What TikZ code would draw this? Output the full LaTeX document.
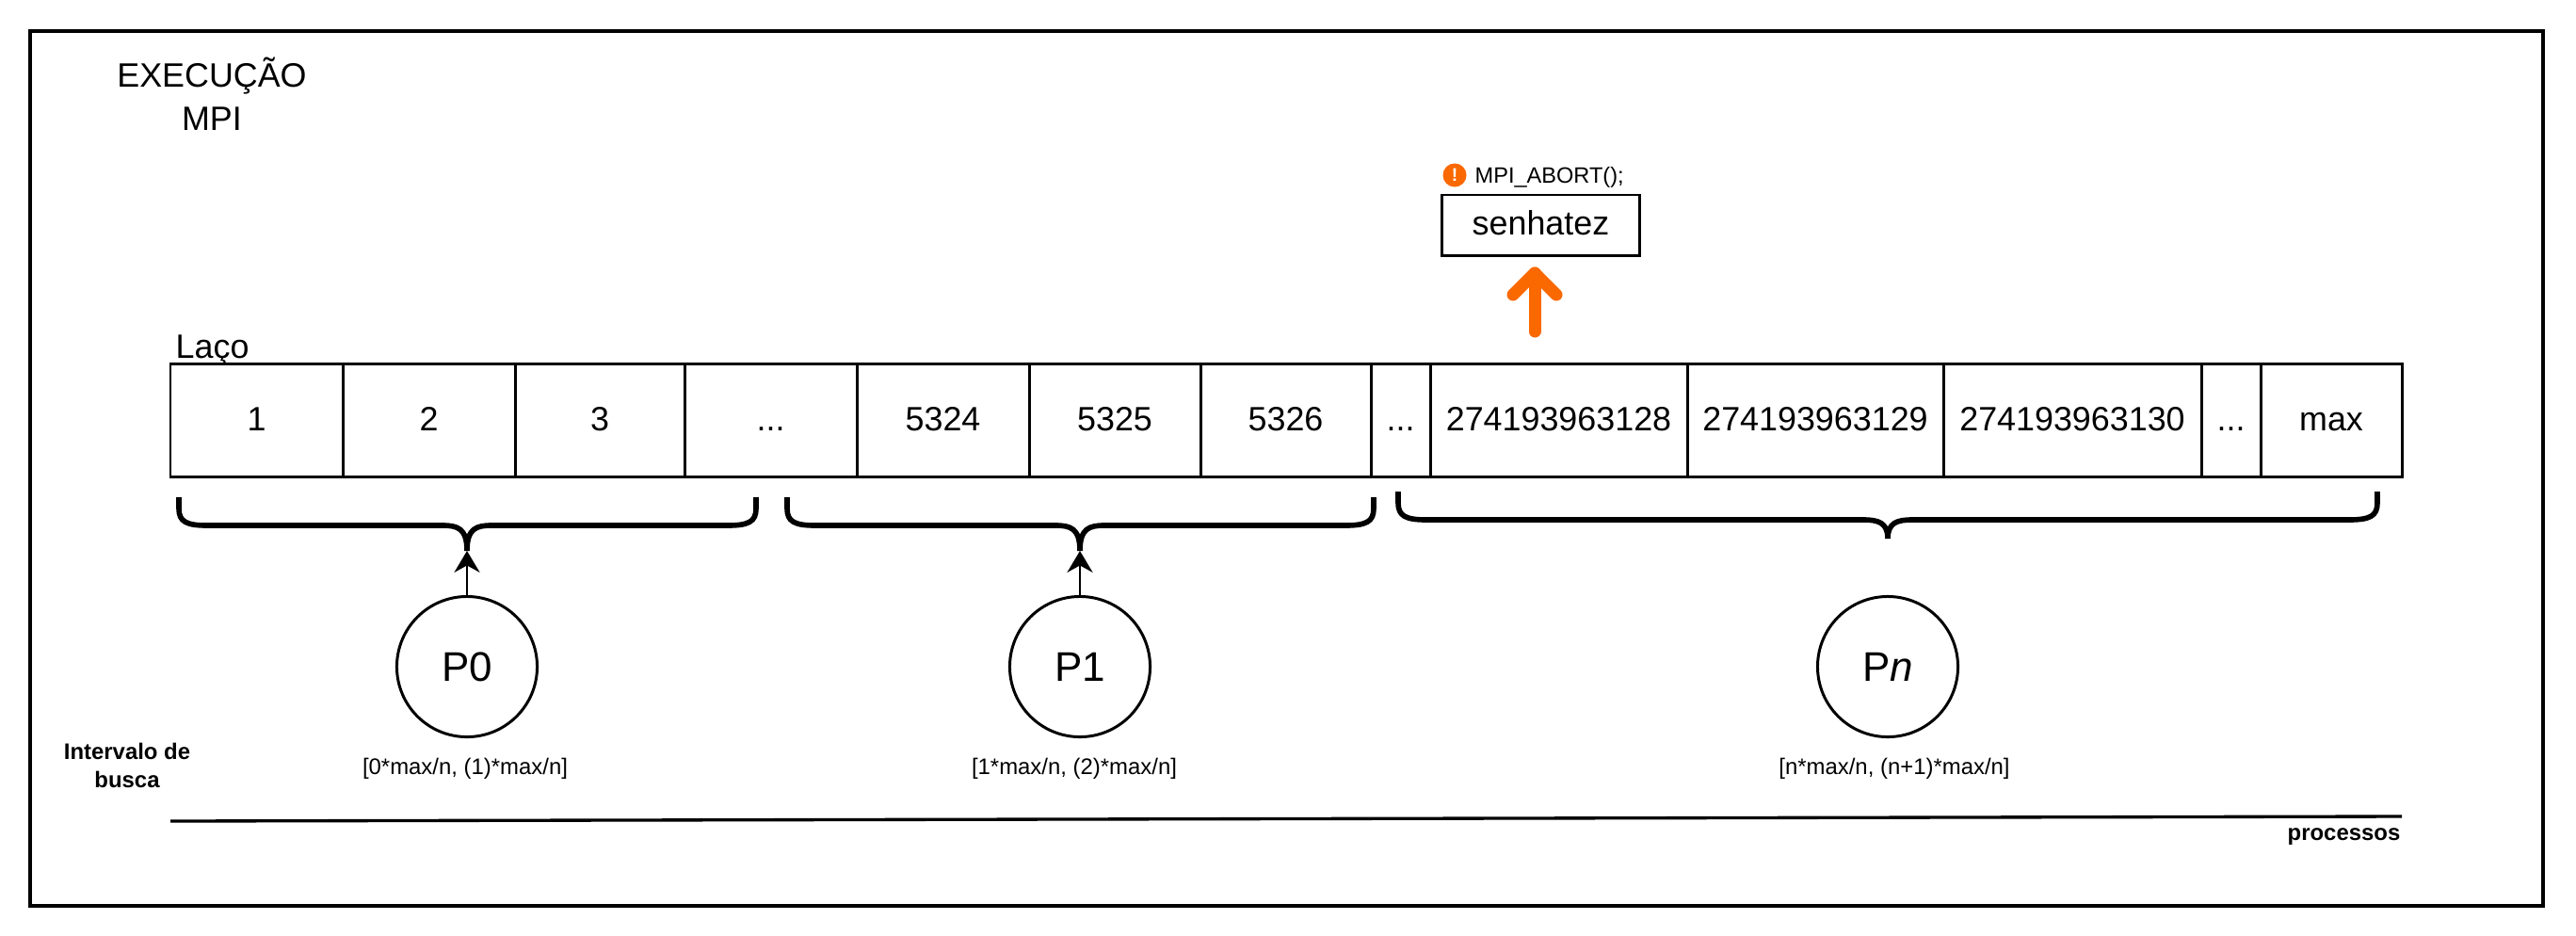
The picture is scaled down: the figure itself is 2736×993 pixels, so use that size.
\documentclass[tikz,border=0pt]{standalone}
\usepackage{fontspec}
\setmainfont{Liberation Sans}
\usetikzlibrary{arrows.meta}
\definecolor{alertorange}{HTML}{FA6800}
\newcommand{\gapdots}{...}
\tikzset{
  cell/.style={draw,line width=0.85pt,outer sep=0pt,inner sep=0pt,minimum height=1.19cm,font=\fontsize{10.2pt}{12pt}\selectfont,text height=6.2pt,text depth=0pt},
  proc/.style={draw,circle,line width=0.85pt,outer sep=0pt,inner sep=0pt,minimum size=1.49cm,font=\fontsize{12.5pt}{14pt}\selectfont},
  bracket/.style={line width=1.6pt,line join=round},
  interval/.style={font=\fontsize{6.8pt}{8pt}\selectfont,inner sep=0pt},
  axislabel/.style={font=\fontsize{6.8pt}{8.5pt}\selectfont\bfseries,align=center,inner sep=0pt},
  title/.style={font=\fontsize{10.2pt}{13pt}\selectfont,align=center,inner sep=0pt}
}
\begin{document}
\begin{tikzpicture}[x=0.01cm,y=-0.01cm]
\useasboundingbox (0,0) rectangle (2736,993);
\draw[line width=0.95pt] (32,33) rectangle (2701,962); % --- outer frame
\node[title] (exec) at (225,100) {EXECUÇÃO\\MPI};
\node[title,anchor=west] (laco) at (186,372) {Laço};
%----- memory cells of the loop
\foreach \xa/\xb/\name/\txt in {181/364/c1/1,364/547/c2/2,547/727/c3/3,727/910/c4/\gapdots,910/1093/c5/5324,1093/1275/c6/5325,1275/1456/c7/5326,1456/1519/c8/\gapdots,1519/1792/c9/274193963128,1792/2064/c10/274193963129,2064/2338/c11/274193963130,2338/2401/c12/\gapdots,2401/2551/c13/max}{
\pgfmathsetmacro\wcell{(\xb-\xa)*0.01}
\node[cell,minimum width=\wcell cm] (\name) at ({(\xa+\xb)/2},446.5) {\txt};
}
%----- curly brackets below the cells
\foreach \xa/\xm/\xb/\ya/\yb/\yc/\name in {190/496/803/528/558/585/br0,836/1147/1459/528/558/585/br1,1485/2005/2525/522/552/572/brn}{
\draw[bracket] (\xa,\ya) -- (\xa,\yb-18) .. controls (\xa,\yb-4) and (\xa+8,\yb) .. (\xa+30,\yb) -- (\xm-26,\yb) .. controls (\xm-10,\yb) and (\xm,\yb+3) .. (\xm,\yc);
\draw[bracket] (\xb,\ya) -- (\xb,\yb-18) .. controls (\xb,\yb-4) and (\xb-8,\yb) .. (\xb-30,\yb) -- (\xm+26,\yb) .. controls (\xm+10,\yb) and (\xm,\yb+3) .. (\xm,\yc);
\coordinate (\name) at (\xm,\yc);
}
%----- processes
\node[proc] (p0) at (496,708) {P0};
\node[proc] (p1) at (1147,708) {P1};
\node[proc] (pn) at (2005,708) {P\textit{n}};
\draw[-{Stealth[length=6.5pt,width=7.7pt]},line width=0.8pt] (p0) -- (br0);
\draw[-{Stealth[length=6.5pt,width=7.7pt]},line width=0.8pt] (p1) -- (br1);
\node[interval] (i0) at (494,816) {[0*max/n, (1)*max/n]};
\node[interval] (i1) at (1141,816) {[1*max/n, (2)*max/n]};
\node[interval] (in) at (2012,816) {[n*max/n, (n+1)*max/n]};
%----- axis at the bottom
\coordinate (axisa) at (181,872);
\coordinate (axisb) at (2551,867);
\draw[line width=0.95pt] (axisa) -- (axisb);
\node[axislabel] (busca) at (135,813) {Intervalo de\\busca};
\node[axislabel,anchor=east] (procs) at (2550,889) {processos};
%----- found password
\node[draw,line width=0.85pt,outer sep=0pt,inner sep=0pt,minimum width=2.09cm,minimum height=0.64cm,font=\fontsize{10.2pt}{12pt}\selectfont,text height=6pt,text depth=0pt] (senha) at (1636.5,239) {senhatez};
\node[circle,fill=alertorange,text=white,inner sep=0pt,minimum size=0.25cm,font=\fontsize{5.5pt}{6pt}\selectfont\bfseries] (warn) at (1545,186) {!};
\node[interval,anchor=west,font=\fontsize{6.7pt}{8pt}\selectfont] (abort) at (1566,188) {MPI\_ABORT();};
\coordinate (foot) at (1630,352);
\coordinate (head) at (1630,290);
\draw[alertorange,line width=3.7pt,line cap=round,line join=round] (foot) -- (head);
\draw[alertorange,line width=3.7pt,line cap=round,line join=round] (1607,313) -- (head) -- (1653,313);
\end{tikzpicture}
\end{document}
